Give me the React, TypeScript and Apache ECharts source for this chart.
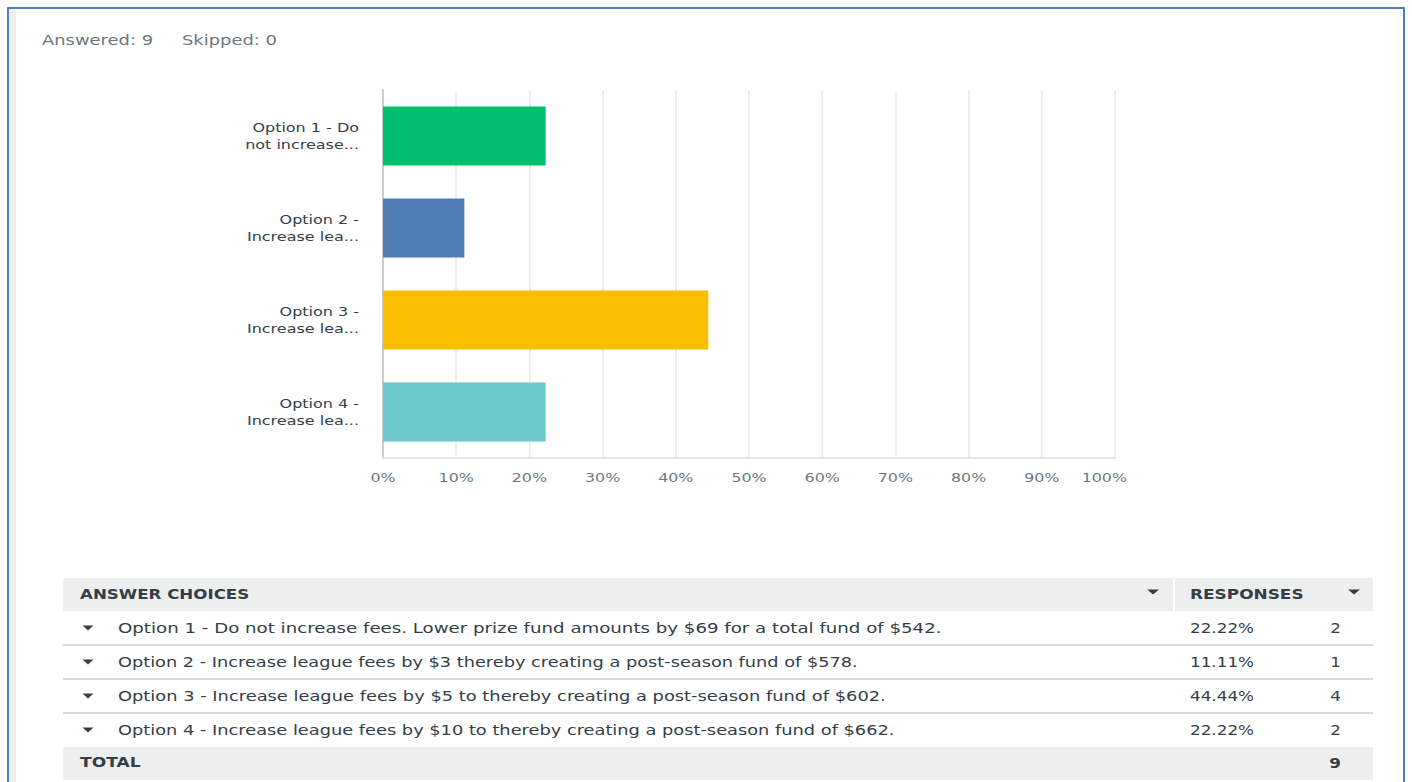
import React, { useEffect, useRef } from "react";
import * as echarts from "echarts";

const shortLabels = [
  "Option 1 - Do\nnot increase...",
  "Option 2 -\nIncrease lea...",
  "Option 3 -\nIncrease lea...",
  "Option 4 -\nIncrease lea...",
];
const fullChoices = [
  "Option 1 - Do not increase fees. Lower prize fund amounts by $69 for a total fund of $542.",
  "Option 2 - Increase league fees by $3 thereby creating a post-season fund of $578.",
  "Option 3 - Increase league fees by $5 to thereby creating a post-season fund of $602.",
  "Option 4 - Increase league fees by $10 to thereby creating a post-season fund of $662.",
];
const percentValues = [22.22, 11.11, 44.44, 22.22];
const responseCounts = [2, 1, 4, 2];
const totalCount = 9;
const xTickValues = [0, 10, 20, 30, 40, 50, 60, 70, 80, 90, 100];
const answeredText = "Answered: 9";
const skippedText = "Skipped: 0";
const barColors = ["#00BF6F", "#507CB6", "#F9BE00", "#6BC8CD"];

const FONT = "DejaVu Sans";
const TEXT_DARK = "#333e48";
const TEXT_GRAY = "#6b787f";
const rowTextScale = [1.3, 1.268, 1.275, 1.27];

export default function App() {
  const ref = useRef<HTMLDivElement>(null);
  useEffect(() => {
    if (!ref.current) return;
    const chart = echarts.init(ref.current, undefined, { renderer: "svg" });

    const graphics: any[] = [];
    // frame
    graphics.push({ type: "rect", shape: { x: 9, y: 9, width: 7, height: 780 }, style: { fill: "#eeeeee" }, silent: true });
    graphics.push({ type: "rect", shape: { x: 8, y: 8, width: 1396, height: 790 }, style: { fill: "none", stroke: "#4f81bd", lineWidth: 2 }, silent: true });
    // answered / skipped
    graphics.push({ type: "text", x: 42, y: 40, scaleX: 1.28, style: { text: answeredText, font: `14px '${FONT}'`, fill: TEXT_GRAY, verticalAlign: "middle" } });
    graphics.push({ type: "text", x: 182, y: 40, scaleX: 1.28, style: { text: skippedText, font: `14px '${FONT}'`, fill: TEXT_GRAY, verticalAlign: "middle" } });

    // table
    const tx0 = 63, tx1 = 1373, colSplit = 1173;
    const headerTop = 578, headerH = 33;
    graphics.push({ type: "rect", shape: { x: tx0, y: headerTop, width: colSplit - tx0, height: headerH }, style: { fill: "#edeeee" } });
    graphics.push({ type: "rect", shape: { x: colSplit + 2, y: headerTop, width: tx1 - colSplit - 2, height: headerH }, style: { fill: "#edeeee" } });
    graphics.push({ type: "text", x: 80, y: headerTop + headerH / 2, scaleX: 1.19, style: { text: "ANSWER CHOICES", font: `bold 14px '${FONT}'`, fill: TEXT_DARK, verticalAlign: "middle" } });
    graphics.push({ type: "text", x: 1190, y: headerTop + headerH / 2, scaleX: 1.21, style: { text: "RESPONSES", font: `bold 14px '${FONT}'`, fill: TEXT_DARK, verticalAlign: "middle" } });
    const tri = (cx: number, cy: number, w: number, h: number) => ({
      type: "polygon",
      shape: { points: [[cx - w / 2, cy - h / 2], [cx + w / 2, cy - h / 2], [cx, cy + h / 2]] },
      style: { fill: TEXT_DARK },
    });
    graphics.push(tri(1153, 592, 12, 5));
    graphics.push(tri(1354, 592, 12, 5));

    const rowTop0 = 611, rowH = 34;
    fullChoices.forEach((c, i) => {
      const cy = rowTop0 + i * rowH + rowH / 2;
      graphics.push(tri(88, cy, 11, 5));
      graphics.push({ type: "text", x: 118, y: cy, scaleX: rowTextScale[i], style: { text: c, font: `14px '${FONT}'`, fill: TEXT_DARK, verticalAlign: "middle" } });
      graphics.push({ type: "text", x: 1190, y: cy, scaleX: 1.2, style: { text: percentValues[i].toFixed(2) + "%", font: `14px '${FONT}'`, fill: TEXT_DARK, verticalAlign: "middle" } });
      graphics.push({ type: "text", x: 1341, y: cy, scaleX: 1.2, style: { text: String(responseCounts[i]), font: `14px '${FONT}'`, fill: TEXT_DARK, verticalAlign: "middle", align: "right" } });
      if (i < fullChoices.length - 1) {
        graphics.push({ type: "line", shape: { x1: tx0, y1: rowTop0 + (i + 1) * rowH, x2: tx1, y2: rowTop0 + (i + 1) * rowH }, style: { stroke: "#d9d9d9", lineWidth: 2 } });
      }
    });
    const totalTop = rowTop0 + fullChoices.length * rowH;
    graphics.push({ type: "rect", shape: { x: tx0, y: totalTop, width: tx1 - tx0, height: 33 }, style: { fill: "#edeeee" } });
    graphics.push({ type: "text", x: 80, y: totalTop + 16, scaleX: 1.22, style: { text: "TOTAL", font: `bold 14px '${FONT}'`, fill: TEXT_DARK, verticalAlign: "middle" } });
    graphics.push({ type: "text", x: 1341, y: totalTop + 16, scaleX: 1.2, style: { text: String(totalCount), font: `bold 14px '${FONT}'`, fill: TEXT_DARK, verticalAlign: "middle", align: "right" } });

    chart.setOption({
      animation: false,
      backgroundColor: "#ffffff",
      grid: { left: 383, right: 297, top: 90, bottom: 324, containLabel: false },
      xAxis: {
        type: "value",
        min: 0,
        max: 100,
        interval: 10,
        axisLine: { show: true, lineStyle: { color: "#e3e3e3", width: 2 } },
        axisTick: { show: false },
        splitLine: { show: true, lineStyle: { color: "#eeeeee", width: 2 } },
        axisLabel: { show: false },
      },
      yAxis: {
        type: "category",
        inverse: true,
        data: shortLabels,
        axisLine: { show: true, lineStyle: { color: "#cccccc", width: 2 } },
        axisTick: { show: false },
        axisLabel: { show: false },
      },
      series: [
        {
          type: "bar",
          data: percentValues.map((v, i) => ({ value: v, itemStyle: { color: barColors[i] } })),
          barWidth: "64%",
          silent: true,
        },
        {
          type: "custom",
          silent: true,
          clip: false,
          data: shortLabels.map((_, i) => [0, i]),
          renderItem: (params: any, api: any) => {
            const p = api.coord([0, api.value(1)]);
            return {
              type: "text",
              x: p[0] - 24,
              y: p[1],
              scaleX: 1.23,
              style: {
                text: shortLabels[params.dataIndex],
                align: "right",
                verticalAlign: "middle",
                font: `13px '${FONT}'`,
                lineHeight: 17,
                fill: TEXT_DARK,
              },
            };
          },
        },
        {
          type: "custom",
          silent: true,
          clip: false,
          data: xTickValues.map((v) => [v, 0]),
          renderItem: (params: any, api: any) => {
            const v = api.value(0);
            const p = api.coord([v, 0]);
            const cs = params.coordSys;
            const isLast = params.dataIndex === xTickValues.length - 1;
            return {
              type: "text",
              x: isLast ? p[0] + 12 : p[0],
              y: cs.y + cs.height + 20,
              scaleX: 1.22,
              style: {
                text: v + "%",
                align: isLast ? "right" : "center",
                verticalAlign: "middle",
                font: `13px '${FONT}'`,
                fill: TEXT_GRAY,
              },
            };
          },
        },
      ],
      graphic: graphics,
    });
    return () => chart.dispose();
  }, []);
  return <div ref={ref} style={{ position: "absolute", left: 0, top: 0, width: 1412, height: 782 }} />;
}
